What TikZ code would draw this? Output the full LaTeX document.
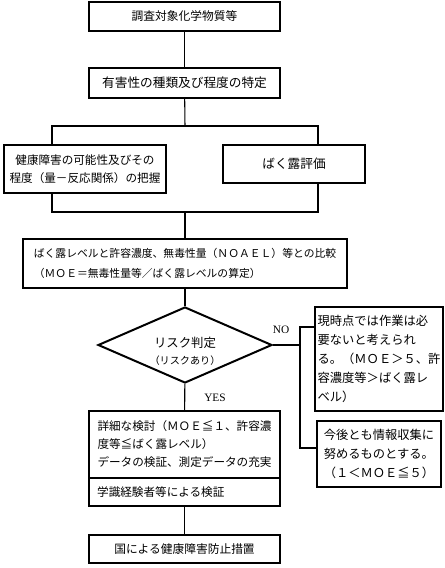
\documentclass[tikz,border=0pt]{standalone}
\usepackage{fontspec}
\newfontfamily\jpfont{Noto Sans CJK JP}
\newfontfamily\latinfont{Liberation Serif}
\usepackage{tikz}
\usetikzlibrary{shapes.geometric}

\begin{document}
\begin{tikzpicture}[x=0.75pt, y=-0.75pt,
  box/.style={draw, line width=1.5pt, rectangle, inner sep=2pt, align=center, font=\jpfont\fontsize{8.8}{14}\selectfont},
  wide/.style={minimum width=143.25pt},
  link/.style={line width=0.8pt},
  answer/.style={font=\latinfont\fontsize{8.5}{10}\selectfont, inner sep=1pt}]

\fill[white] (0,0) rectangle (445,568);
\useasboundingbox (0,0) rectangle (445,568);

% Substance and hazard identification
\node[box, wide, minimum height=21.75pt] (target) at (184.5,16.5) {調査対象化学物質等};
\node[box, wide, minimum height=22.5pt, font=\jpfont\fontsize{9.5}{14}\selectfont] (hazard) at (184.5,83) {有害性の種類及び程度の特定};

% Dose-response and exposure branches
\node[box, minimum width=121.5pt, minimum height=36pt, font=\jpfont\fontsize{8.7}{13.7}\selectfont] (dose) at (85,169) {健康障害の可能性及びその\\程度（量－反応関係）の把握};
\node[box, minimum width=106.5pt, minimum height=28.5pt, font=\jpfont\fontsize{9.5}{14}\selectfont] (expo) at (294,164) {ばく露評価};

% Comparison
\node[box, minimum width=243pt, minimum height=36.75pt, align=left, font=\jpfont\fontsize{8.1}{15}\selectfont] (compare) at (185,263.5) {ばく露レベルと許容濃度、無毒性量（ＮＯＡＥＬ）等との比較\\（ＭＯＥ＝無毒性量等／ばく露レベルの算定）};

% Risk decision
\node[diamond, draw, line width=1.5pt, minimum width=130.5pt, minimum height=57pt, inner sep=0pt, font=\jpfont\fontsize{9.3}{13}\selectfont] (risk) at (185,345) {};
\node[font=\jpfont\fontsize{9.3}{13}\selectfont, inner sep=1pt] (riskTitle) at (185,343) {リスク判定};
\node[font=\jpfont\fontsize{7.6}{9}\selectfont, inner sep=1pt] (riskNote) at (185,361) {（リスクあり）};

% NO side
\node[box, minimum width=93pt, minimum height=78pt, align=left, font=\jpfont\fontsize{9.2}{14.2}\selectfont] (noneed) at (379,359) {現時点では作業は必\\要ないと考えられ\\る。（ＭＯＥ＞５、許\\容濃度等＞ばく露レ\\ベル）};
\node[box, minimum width=93pt, minimum height=49.5pt, align=left, font=\jpfont\fontsize{9.2}{14.5}\selectfont] (collect) at (379,454) {今後とも情報収集に\\努めるものとする。\\（１＜ＭＯＥ≦５）};

% YES side
\node[box, wide, minimum height=50.25pt, align=left, font=\jpfont\fontsize{8.7}{13.5}\selectfont] (detail) at (184.5,444.5) {詳細な検討（ＭＯＥ≦１、許容濃\\度等≦ばく露レベル）\\データの検証、測定データの充実};
\node[box, wide, minimum height=21pt, align=left, font=\jpfont\fontsize{8.7}{13.5}\selectfont, text width=131pt] (expert) at (184.5,492) {学識経験者等による検証};
\node[box, wide, minimum height=21pt] (measure) at (184.5,549) {国による健康障害防止措置};

% Answer labels
\node[answer] (no) at (281,330) {NO};
\node[answer] (yes) at (215,398) {YES};

% Branch points
\coordinate (splitA) at (185,126);
\coordinate (splitL) at (52,126);
\coordinate (splitR) at (318,126);
\coordinate (joinA) at (185,212);
\coordinate (joinL) at (52,212);
\coordinate (joinR) at (318,212);
\coordinate (noTop) at (300,327);
\coordinate (noBot) at (300,448);

% Connections
\draw[link] (target) -- (hazard);
\draw[link] (hazard) -- (splitA);
\draw[link] (splitL |- dose.north) -- (splitL) -- (splitR) -- (splitR |- expo.north);
\draw[link] (joinL |- dose.south) -- (joinL) -- (joinR) -- (joinR |- expo.south);
\draw[link] (joinA) -- (compare);
\draw[link] (compare) -- (risk);
\draw[link] (risk.east) -- (risk.east -| noTop);
\draw[link] (noTop -| noneed.west) -- (noTop) -- (noBot) -- (noBot -| collect.west);
\draw[link] (risk) -- (detail);
\draw[link] (expert) -- (measure);

\end{tikzpicture}
\end{document}
